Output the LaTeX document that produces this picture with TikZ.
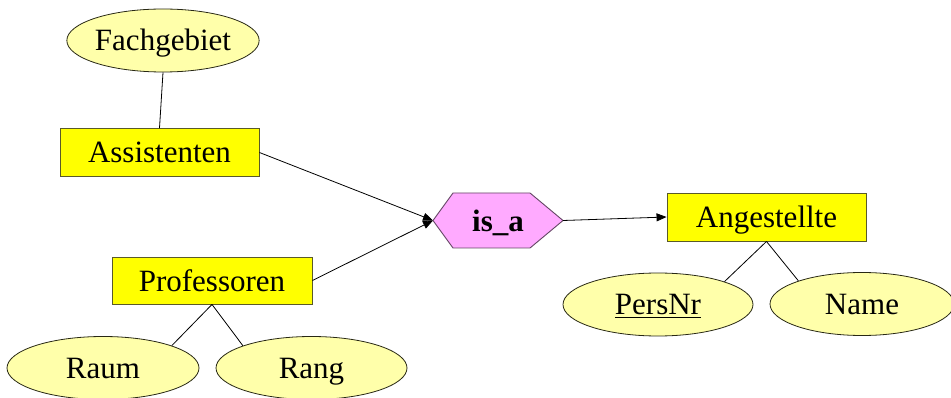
\documentclass[tikz,border=0pt]{standalone}
\usepackage{fontspec}
\setmainfont{Liberation Serif}
\usetikzlibrary{shapes.geometric,arrows.meta}
\definecolor{entfill}{RGB}{255,255,0}
\definecolor{entdraw}{RGB}{90,90,40}
\definecolor{attfill}{RGB}{255,255,170}
\definecolor{attdraw}{RGB}{40,40,20}
\definecolor{relfill}{RGB}{255,170,255}
\definecolor{reldraw}{RGB}{100,70,100}
\tikzset{
  entity/.style={rectangle, draw=entdraw, fill=entfill, line width=0.9pt, inner sep=0pt,
    minimum width=199pt, minimum height=48pt, text height=21pt, text depth=0pt,
    font=\fontsize{31}{36}\selectfont},
  attrib/.style={ellipse, draw=attdraw, fill=attfill, line width=0.8pt, inner sep=0pt,
    minimum width=190pt, minimum height=63pt, text height=21pt, text depth=0pt,
    font=\fontsize{31}{36}\selectfont},
  conn/.style={draw=black, line width=0.8pt},
  arr/.style={conn, -{Triangle[length=10pt,width=8pt]}},
}
\begin{document}
\begin{tikzpicture}[x=1pt,y=-1pt]
\useasboundingbox (0,0) rectangle (951,398);
% hexagon relationship
\coordinate (isaL) at (433,220.5);
\coordinate (isaR) at (563,220.5);
\filldraw[fill=relfill, draw=reldraw, line width=0.9pt]
  (isaL) -- (453,193) -- (530,193) -- (isaR) -- (530,248) -- (453,248) -- cycle;
\node[text height=21pt, text depth=0pt, inner sep=0pt] (isa) at (498,221)
  {\fontsize{31}{36}\selectfont\bfseries is\_a};
% entities
\node[entity] (assist) at (159.5,152.5) {Assistenten};
\node[entity, minimum width=200pt, minimum height=47pt] (prof) at (212,280.5) {Professoren};
\node[entity] (angest) at (766.5,217) {Angestellte};
% attributes
\node[attrib] (fach) at (163,40.5) {Fachgebiet};
\node[attrib, minimum width=192pt] (raum) at (103,368) {Raum};
\node[attrib, minimum width=191pt] (rang) at (311.5,368) {Rang};
\node[attrib] (persnr) at (658,304.5) {\underline{PersNr}};
\node[attrib, minimum width=184pt] (name) at (862,304) {Name};
% connectors
\draw[conn] (fach.south) -- (assist.north);
\draw[conn] (prof.south) -- (raum.18);
\draw[conn] (prof.south) -- (rang.162);
\draw[conn] (angest.south) -- (persnr.19);
\draw[conn] (angest.south) -- (name.160);
\draw[arr] (assist.east) -- (isaL);
\draw[arr] (prof.east) -- (isaL);
\draw[arr] (isaR) -- (angest.west);
\end{tikzpicture}
\end{document}
